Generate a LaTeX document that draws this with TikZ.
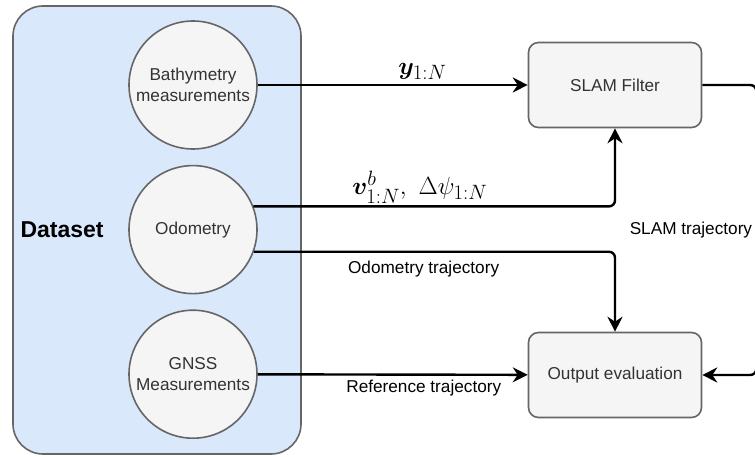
\documentclass[tikz,border=0pt]{standalone}
\usepackage[no-math]{fontspec}
\setmainfont{Liberation Sans}
\usepackage{amsmath,bm}
\DeclareMathSizes{28}{28}{21}{16}
\usetikzlibrary{arrows.meta,positioning}
\definecolor{ink}{HTML}{333333}
\definecolor{frame}{HTML}{666666}
\definecolor{soft}{HTML}{F5F5F5}
\definecolor{sky}{HTML}{DAE8FC}
\tikzset{
  group/.style={
    draw=frame, fill=sky, rounded corners=30pt, line width=1.6pt,
    minimum width=288pt, minimum height=448pt},
  source/.style={
    circle, draw=frame, fill=soft, line width=1.6pt, minimum size=128pt,
    inner sep=0pt, align=center, font=\fontsize{17.2}{20.6}\selectfont\color{ink}},
  stage/.style={
    draw=frame, fill=soft, rounded corners=10pt, line width=1.6pt,
    minimum width=173pt, minimum height=85pt, font=\fontsize{17.2}{20.6}\selectfont\color{ink}},
  flow/.style={-{Stealth[length=15pt,width=15pt,inset=5pt]}, line width=2.4pt, rounded corners=6pt},
  side/.style={font=\fontsize{17.2}{20.6}\selectfont, inner sep=1pt},
  sym/.style={font=\fontsize{28}{32}\selectfont, inner sep=1pt},
}

\begin{document}
\begin{tikzpicture}[x=1pt, y=-1pt]
  \useasboundingbox (0,0) rectangle (755,457);
  \clip (0,0) rectangle (755,457);

  \node[group] (data) at (157,230) {};
  \node[anchor=west, font=\fontsize{23}{27}\selectfont\bfseries] (dslabel) at (17,230) {Dataset};

  \node[source] (bathy) at (193,85) {Bathymetry\\measurements};
  \node[source, below=15pt of bathy] (odo) {Odometry};
  \node[source, below=15pt of odo] (gnss) {GNSS\\Measurements};

  \node[stage] (slam) at (615,85) {SLAM Filter};
  \node[stage] (eval) at (615,375) {Output evaluation};

  \draw[flow] (bathy) -- node[sym, pos=0.61, above=3pt] {$\bm{y}_{1:N}$} (slam);
  \draw[flow] (odo.21) -| node[sym, pos=0.23, above=1pt] {$\bm{v}^{b}_{1:N},\ \Delta\psi_{1:N}$} (slam.south);
  \draw[flow] (odo.-20) -| node[side, pos=0.235, below=7pt] {Odometry trajectory} (eval.north);
  \draw[flow] (gnss) -- node[side, pos=0.615, below=3pt] {Reference trajectory} (eval);
  \draw[flow] (slam.east) -- ++(54,0) |- node[side, pos=0.25, left=2pt] {SLAM trajectory} (eval.east);
\end{tikzpicture}
\end{document}
